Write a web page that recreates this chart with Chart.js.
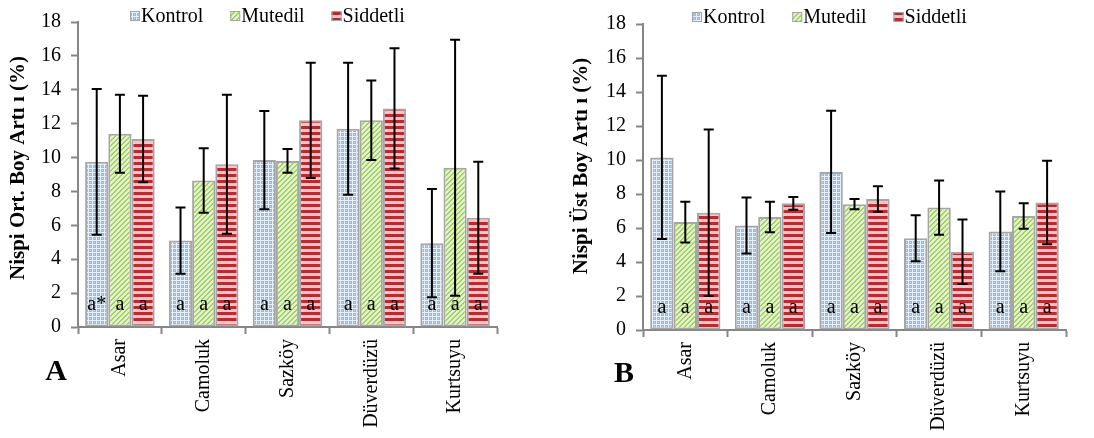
<!DOCTYPE html>
<html>
<head>
<meta charset="utf-8">
<script src="https://cdn.jsdelivr.net/npm/chart.js@4.4.0/dist/chart.umd.min.js"></script>
<style>
  body { margin: 0; background: #fff; width: 1094px; height: 438px; position: relative; overflow: hidden; }
  canvas { position: absolute; top: 0; }
  #chartA { left: 0; }
  #chartB { left: 540px; }
</style>
</head>
<body>
<canvas id="chartA" width="540" height="438" style="width:540px;height:438px"></canvas>
<canvas id="chartB" width="554" height="438" style="width:554px;height:438px"></canvas>
<script>
// categories and groups
const sites = ['Asar', 'Camoluk', 'Sazköy', 'Düverdüzü', 'Kurtsuyu'];
const groups = ['Kontrol', 'Mutedil', 'Siddetli'];

// panel A - Nispi Ort. Boy Artışı (%)
const ortKontrol = [9.75, 5.1, 9.85, 11.7, 4.95];
const ortMutedil = [11.4, 8.65, 9.8, 12.2, 9.4];
const ortSiddetli = [11.1, 9.6, 12.2, 12.9, 6.45];
const ortKontrolErr = [4.3, 1.95, 2.9, 3.9, 3.2];
const ortMutedilErr = [2.3, 1.9, 0.7, 2.35, 7.55];
const ortSiddetliErr = [2.55, 4.1, 3.4, 3.55, 3.3];
const ortKontrolLetters = ['a*', 'a', 'a', 'a', 'a'];
const ortMutedilLetters = ['a', 'a', 'a', 'a', 'a'];
const ortSiddetliLetters = ['a', 'a', 'a', 'a', 'a'];

// panel B - Nispi Üst Boy Artışı (%)
const ustKontrol = [10.15, 6.15, 9.3, 5.4, 5.8];
const ustMutedil = [6.35, 6.65, 7.4, 7.2, 6.7];
const ustSiddetli = [6.9, 7.45, 7.7, 4.6, 7.5];
const ustKontrolErr = [4.8, 1.65, 3.6, 1.35, 2.35];
const ustMutedilErr = [1.2, 0.9, 0.3, 1.6, 0.75];
const ustSiddetliErr = [4.9, 0.37, 0.75, 1.9, 2.45];
const ustKontrolLetters = ['a', 'a', 'a', 'a', 'a'];
const ustMutedilLetters = ['a', 'a', 'a', 'a', 'a'];
const ustSiddetliLetters = ['a', 'a', 'a', 'a', 'a'];

// y axis
const yMin = 0, yMax = 18, yStep = 2;

const serif = "'Liberation Serif', 'Times New Roman', serif";

function makePattern(kind) {
  const c = document.createElement('canvas');
  const p = c.getContext('2d');
  if (kind === 'Kontrol') {
    // small blue lattice with white lines
    c.width = 4; c.height = 4;
    p.fillStyle = '#93bbe6';
    p.fillRect(0, 0, 4, 4);
    p.fillStyle = '#e6f0fb';
    p.fillRect(0, 0, 4, 1);
    p.fillRect(0, 0, 1, 4);
    p.fillStyle = '#c4daf1';
    p.fillRect(2, 2, 1, 1);
  } else if (kind === 'Mutedil') {
    // diagonal stripes "/"
    c.width = 5; c.height = 5;
    p.fillStyle = '#e3f1cc';
    p.fillRect(0, 0, 5, 5);
    p.fillStyle = '#a2d166';
    for (let i = 0; i < 5; i++) {
      p.fillRect((5 - i) % 5, i, 1, 1);
      p.fillRect((6 - i) % 5, i, 1, 1);
    }
  } else {
    // horizontal stripes
    c.width = 6; c.height = 6;
    p.fillStyle = '#f5c4c6';
    p.fillRect(0, 0, 6, 6);
    p.fillStyle = '#bb2a31';
    p.fillRect(0, 0, 6, 3);
  }
  return p.createPattern(c, 'repeat');
}

const fills = {
  Kontrol: makePattern('Kontrol'),
  Mutedil: makePattern('Mutedil'),
  Siddetli: makePattern('Siddetli')
};

const errorBars = {
  id: 'errorBars',
  afterDatasetsDraw(chart) {
    const ctx = chart.ctx;
    const y = chart.scales.y;
    ctx.save();
    chart.data.datasets.forEach((ds, i) => {
      chart.getDatasetMeta(i).data.forEach((bar, j) => {
        const v = ds.data[j], e = ds.errors[j];
        const top = y.getPixelForValue(v + e);
        const bot = y.getPixelForValue(v - e);
        ctx.strokeStyle = '#000';
        ctx.lineWidth = 2;
        ctx.beginPath();
        ctx.moveTo(bar.x, top); ctx.lineTo(bar.x, bot);
        ctx.moveTo(bar.x - 5, top); ctx.lineTo(bar.x + 5, top);
        ctx.moveTo(bar.x - 5, bot); ctx.lineTo(bar.x + 5, bot);
        ctx.stroke();
      });
    });
    // letters near the base of each bar
    ctx.fillStyle = '#000';
    ctx.font = '20px ' + serif;
    ctx.textAlign = 'center';
    ctx.textBaseline = 'alphabetic';
    chart.data.datasets.forEach((ds, i) => {
      chart.getDatasetMeta(i).data.forEach((bar, j) => {
        ctx.fillText(ds.letters[j], bar.x, y.getPixelForValue(1));
      });
    });
    ctx.restore();
  }
};

const extras = {
  id: 'extras',
  afterDraw(chart) {
    const o = chart.options.plugins.extras;
    const ctx = chart.ctx;
    ctx.save();
    // y title
    ctx.translate(o.titleX, o.titleY);
    ctx.rotate(-Math.PI / 2);
    ctx.fillStyle = '#000';
    ctx.font = 'bold 21px ' + serif;
    ctx.textAlign = 'center';
    ctx.textBaseline = 'middle';
    ctx.fillText(o.title, 0, 0);
    ctx.restore();

    // panel letter
    ctx.save();
    ctx.fillStyle = '#000';
    ctx.font = 'bold 30px ' + serif;
    ctx.textAlign = 'center';
    ctx.textBaseline = 'alphabetic';
    ctx.fillText(o.panel, o.panelX, o.panelY);

    // legend
    ctx.font = '20px ' + serif;
    ctx.textAlign = 'left';
    ctx.textBaseline = 'middle';
    let x = o.legendX;
    groups.forEach(g => {
      ctx.fillStyle = fills[g];
      ctx.fillRect(x, o.legendY - 5, 10, 10);
      ctx.strokeStyle = '#a6a6a6';
      ctx.lineWidth = 1;
      ctx.strokeRect(x + 0.5, o.legendY - 4.5, 9, 9);
      ctx.fillStyle = '#000';
      ctx.fillText(g, x + 11, o.legendY + 1);
      x += 11 + ctx.measureText(g).width + 27;
    });
    ctx.restore();
  }
};

function makeChart(id, series, errs, letters, area, extraOpts) {
  const canvas = document.getElementById(id);
  const W = canvas.width, H = canvas.height;
  return new Chart(canvas, {
    type: 'bar',
    data: {
      labels: sites,
      datasets: groups.map((g, i) => ({
        label: g,
        data: series[i],
        errors: errs[i],
        letters: letters[i],
        backgroundColor: fills[g],
        borderColor: '#a6a6a6',
        borderWidth: 2,
        borderSkipped: false,
        categoryPercentage: 0.83,
        barPercentage: 1
      }))
    },
    options: {
      responsive: false,
      animation: false,
      devicePixelRatio: 1,
      layout: {
        padding: { left: 0, top: area.top, right: W - area.right, bottom: 0 }
      },
      plugins: {
        legend: { display: false },
        tooltip: { enabled: false },
        extras: extraOpts
      },
      scales: {
        x: {
          grid: {
            display: true,
            drawOnChartArea: false,
            offset: true,
            tickLength: 7,
            tickWidth: 2,
            tickColor: '#868686'
          },
          border: { color: '#868686', width: 2 },
          ticks: {
            minRotation: 90,
            maxRotation: 90,
            autoSkip: false,
            padding: 5,
            color: '#000',
            font: { family: serif, size: 20 }
          },
          afterFit: s => { s.height = H - area.bottom; }
        },
        y: {
          min: yMin,
          max: yMax,
          ticks: {
            stepSize: yStep,
            padding: 10,
            color: '#000',
            font: { family: serif, size: 20 }
          },
          grid: {
            drawOnChartArea: false,
            tickLength: 7,
            tickWidth: 2,
            tickColor: '#868686'
          },
          border: { color: '#868686', width: 2 },
          afterFit: s => { s.width = area.left; }
        }
      }
    },
    plugins: [errorBars, extras]
  });
}

makeChart('chartA',
  [ortKontrol, ortMutedil, ortSiddetli],
  [ortKontrolErr, ortMutedilErr, ortSiddetliErr],
  [ortKontrolLetters, ortMutedilLetters, ortSiddetliLetters],
  { left: 78, right: 497, top: 15, bottom: 327 },
  { title: 'Nispi Ort. Boy Artı ı (%)', titleX: 19, titleY: 168,
    panel: 'A', panelX: 56, panelY: 380, legendX: 130, legendY: 16 });

makeChart('chartB',
  [ustKontrol, ustMutedil, ustSiddetli],
  [ustKontrolErr, ustMutedilErr, ustSiddetliErr],
  [ustKontrolLetters, ustMutedilLetters, ustSiddetliLetters],
  { left: 103, right: 526, top: 24, bottom: 330 },
  { title: 'Nispi Üst Boy Artı ı (%)', titleX: 42, titleY: 166,
    panel: 'B', panelX: 84, panelY: 382, legendX: 152, legendY: 17 });
</script>
</body>
</html>
